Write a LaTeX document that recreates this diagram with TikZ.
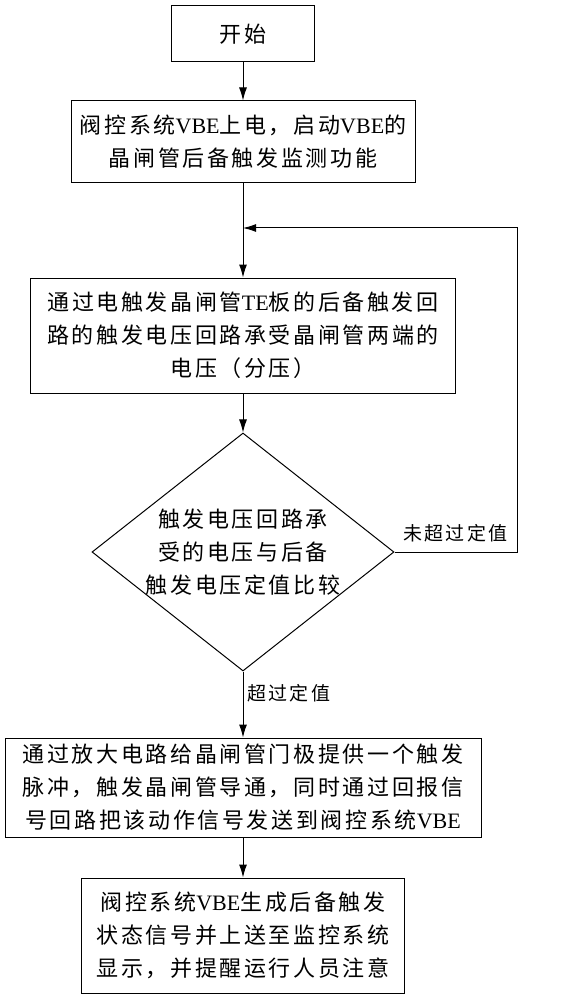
\documentclass[tikz,border=0pt]{standalone}
\usepackage{fontspec}
\newfontfamily\cjk{Noto Sans CJK SC}[LetterSpace=12]
\newfontfamily\latin{Liberation Serif}
\newcommand{\en}[1]{{\latin #1}}
\usetikzlibrary{shapes.geometric,arrows.meta}

\tikzset{
    stepbox/.style={draw,line width=1pt,align=center,inner sep=0pt,
        font={\cjk\fontsize{22pt}{33pt}\selectfont}},
    decide/.style={diamond,draw,line width=1pt,align=center,inner sep=-14pt,
        font={\cjk\fontsize{22pt}{33pt}\selectfont}},
    flow/.style={line width=1pt,-{Latex[length=13pt,width=8pt]}},
    branch/.style={anchor=west,inner sep=0pt,font={\cjk\fontsize{19pt}{24pt}\selectfont}}
}

\begin{document}
\begin{tikzpicture}[x=1pt,y=-1pt]
    \useasboundingbox (0,0) rectangle (573,1000);
    % boxes, top to bottom
    \node[stepbox,minimum width=143pt,minimum height=56pt] (start) at (243,34) {开始};
    \node[stepbox,minimum width=344pt,minimum height=82pt] (init) at (243,142)
        {阀控系统\en{VBE}上电，启动\en{VBE}的\\晶闸管后备触发监测功能};
    \node[stepbox,minimum width=425pt,minimum height=115pt] (volt) at (243,335.5)
        {通过电触发晶闸管\en{TE}板的后备触发回\\路的触发电压回路承受晶闸管两端的\\电压（分压）};
    \node[decide,minimum width=302pt,minimum height=238pt] (cmp) at (243,552)
        {触发电压回路承\\受的电压与后备\\触发电压定值比较};
    \node[stepbox,minimum width=476pt,minimum height=99pt] (fire) at (243,787.5)
        {通过放大电路给晶闸管门极提供一个触发\\脉冲，触发晶闸管导通，同时通过回报信\\号回路把该动作信号发送到阀控系统\en{VBE}};
    \node[stepbox,minimum width=323pt,minimum height=115pt] (show) at (243,935.5)
        {阀控系统\en{VBE}生成后备触发\\状态信号并上送至监控系统\\显示，并提醒运行人员注意};
    % feedback loop
    \coordinate (back) at (243,228);
    \coordinate (turn) at (517,552);
    \node[branch] (nolbl) at (403,533) {未超过定值};
    \node[branch] (yeslbl) at (247,693) {超过定值};
    \draw[flow] (start) -- (init);
    \draw[flow] (init) -- (volt);
    \draw[flow] (volt) -- (cmp);
    \draw[flow] (cmp) -- (fire);
    \draw[flow] (fire) -- (show);
    \draw[flow] (cmp.east) -- (turn) |- (back);
\end{tikzpicture}
\end{document}
